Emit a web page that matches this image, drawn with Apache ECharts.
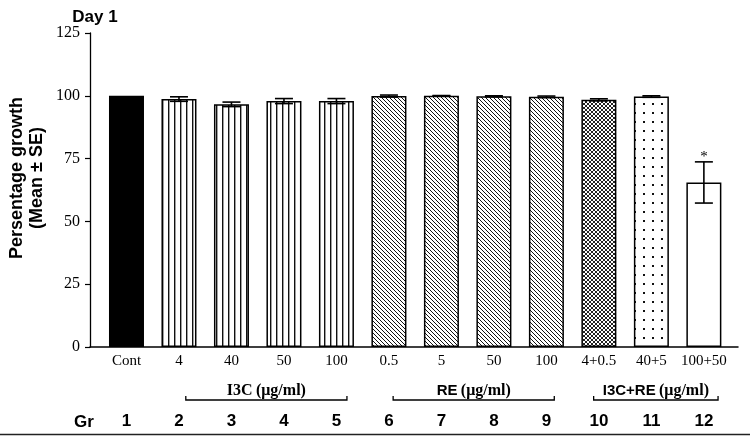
<!DOCTYPE html>
<html>
<head>
<meta charset="utf-8">
<script src="https://cdn.jsdelivr.net/npm/echarts@6/dist/echarts.min.js"></script>
<style>html,body{margin:0;padding:0;background:#fff;}#c{width:750px;height:436px;}</style>
</head>
<body>
<div id="c"></div>
<script>
// ---- data ----
const categories = ['Cont', '4', '40', '50', '100', '0.5', '5', '50', '100', '4+0.5', '40+5', '100+50'];
const groupNumbers = ['1', '2', '3', '4', '5', '6', '7', '8', '9', '10', '11', '12'];
const means = [100, 98.7, 96.6, 97.9, 97.9, 99.9, 100, 99.8, 99.6, 98.4, 99.7, 65.5];
const errors = [0, 0.9, 0.9, 1.0, 1.0, 0.4, 0.1, 0.2, 0.3, 0.4, 0.3, 8.2];
const significance = ['', '', '', '', '', '', '', '', '', '', '', '*'];
const patterns = ['solid', 'vlines', 'vlines', 'vlines', 'vlines', 'diag', 'diag', 'diag', 'diag', 'cross', 'dots', 'white'];
const yTicks = [0, 25, 50, 75, 100, 125];
const groups = [
  { label: 'I3C', from: 1.13, to: 4.2 },
  { label: 'RE', from: 5.08, to: 8.15 },
  { label: 'I3C+RE', from: 8.9, to: 11.27 }
];

// ---- patterns ----
function makePattern(kind) {
  if (kind === 'solid') return '#000';
  if (kind === 'white') return '#fff';
  const c = document.createElement('canvas');
  const ctx = c.getContext('2d');
  if (kind === 'vlines') {
    c.width = 6; c.height = 6;
    ctx.fillStyle = '#fff'; ctx.fillRect(0, 0, 6, 6);
    ctx.fillStyle = '#111'; ctx.fillRect(0, 0, 1.4, 6);
  } else if (kind === 'diag') {
    c.width = 4; c.height = 4;
    ctx.fillStyle = '#fff'; ctx.fillRect(0, 0, 4, 4);
    ctx.fillStyle = '#111';
    for (let i = 0; i < 4; i++) ctx.fillRect(i, i, 1, 1);
  } else if (kind === 'cross') {
    c.width = 4; c.height = 4;
    ctx.fillStyle = '#fff'; ctx.fillRect(0, 0, 4, 4);
    ctx.fillStyle = '#222';
    for (let i = 0; i < 4; i++) { ctx.fillRect(i, i, 1, 1); ctx.fillRect(3 - i, i, 1, 1); }
  } else if (kind === 'dots') {
    c.width = 9; c.height = 9;
    ctx.fillStyle = '#fff'; ctx.fillRect(0, 0, 9, 9);
    ctx.fillStyle = '#111'; ctx.fillRect(4, 4, 2, 2);
  }
  return { image: c, repeat: 'repeat' };
}

const barData = means.map((m, i) => ({
  value: [i, m],
  itemStyle: { color: makePattern(patterns[i]) }
}));
const errData = means.map((m, i) => [i, m, errors[i], i]);

const SERIF = 'Liberation Serif';
const SANS = 'Liberation Sans';

const chart = echarts.init(document.getElementById('c'), null, { renderer: 'canvas' });
const xMin = -0.695, xMax = 11.65;

chart.setOption({
  animation: false,
  backgroundColor: '#fff',
  grid: { left: 90, right: 12, top: 33, bottom: 89 },
  xAxis: [{
    type: 'value', min: xMin, max: xMax,
    splitLine: { show: false },
    axisLine: { show: true, onZero: false, lineStyle: { color: '#000', width: 1.5 } },
    axisTick: { show: false },
    axisLabel: {
      customValues: categories.map((c, i) => i),
      formatter: v => categories[Math.round(v)],
      color: '#000', fontFamily: SERIF, fontSize: 15, margin: 7
    }
  }, {
    type: 'value', min: xMin, max: xMax, position: 'bottom', offset: 58,
    splitLine: { show: false },
    axisLine: { show: false, onZero: false },
    axisTick: { show: false },
    axisLabel: {
      customValues: groupNumbers.map((c, i) => i),
      formatter: v => groupNumbers[Math.round(v)],
      color: '#000', fontFamily: SANS, fontSize: 17, fontWeight: 'bold', margin: 8
    }
  }],
  yAxis: {
    type: 'value', min: 0, max: 125, interval: 25,
    splitLine: { show: false },
    axisLine: { show: true, onZero: false, lineStyle: { color: '#000', width: 1.3 } },
    axisTick: { show: true, length: 5, lineStyle: { color: '#000', width: 1.2 } },
    axisLabel: { color: '#000', fontFamily: SERIF, fontSize: 16, margin: 10,
      formatter: v => (yTicks.indexOf(v) >= 0 ? String(v) : '') }
  },
  series: [{
    type: 'bar',
    data: barData,
    barWidth: 35,
    itemStyle: { borderColor: '#000', borderWidth: 1.5 }
  }, {
    type: 'custom',
    data: errData,
    z: 5,
    renderItem: function (params, api) {
      const x = api.value(0), m = api.value(1), s = api.value(2), idx = api.value(3);
      const top = api.coord([x, m + s]);
      const bot = api.coord([x, m - s]);
      const hw = 9;
      const st = { stroke: '#000', lineWidth: 1.6 };
      const children = [];
      if (s > 0) {
        children.push({ type: 'line', shape: { x1: top[0], y1: top[1], x2: bot[0], y2: bot[1] }, style: st });
        children.push({ type: 'line', shape: { x1: top[0] - hw, y1: top[1], x2: top[0] + hw, y2: top[1] }, style: st });
        children.push({ type: 'line', shape: { x1: bot[0] - hw, y1: bot[1], x2: bot[0] + hw, y2: bot[1] }, style: st });
      }
      if (significance[idx]) {
        children.push({ type: 'text', style: { text: significance[idx], x: top[0], y: top[1] + 3,
          align: 'center', verticalAlign: 'bottom', fill: '#000', font: '15px ' + SERIF } });
      }
      return { type: 'group', children: children };
    }
  }]
});

// ---- annotations: title, y name, group brackets ----
const yLine = chart.convertToPixel({ gridIndex: 0 }, [0, 0])[1];
const graphics = [
  { type: 'text', style: { text: 'Day 1', x: 95, y: 17, align: 'center', verticalAlign: 'middle',
      font: 'bold 17px ' + SANS, fill: '#000' } },
  { type: 'text', rotation: Math.PI / 2, x: 27, y: 178,
    style: { text: 'Persentage growth\n(Mean ± SE)', x: 0, y: 0, align: 'center', verticalAlign: 'middle',
      font: 'bold 18px ' + SANS, lineHeight: 20, fill: '#000' } },
  { type: 'text', style: { text: 'Gr', x: 84, y: 422, align: 'center', verticalAlign: 'middle',
      font: 'bold 17px ' + SANS, fill: '#000' } },
  { type: 'line', shape: { x1: 0, y1: 434.5, x2: 750, y2: 434.5 }, style: { stroke: '#222', lineWidth: 1.5 } }
];
const bracketY = yLine + 53;
groups.forEach(g => {
  const x1 = chart.convertToPixel({ xAxisIndex: 0 }, g.from);
  const x2 = chart.convertToPixel({ xAxisIndex: 0 }, g.to);
  graphics.push({ type: 'polyline', shape: { points: [[x1, bracketY - 4], [x1, bracketY], [x2, bracketY], [x2, bracketY - 4]] },
    style: { stroke: '#000', lineWidth: 1.3, fill: null } });
  const isSans = g.label !== 'I3C';
  graphics.push({ type: 'text', style: {
    text: '{a|' + g.label + '} {b|(μg/ml)}',
    x: (x1 + x2) / 2, y: bracketY - 9, align: 'center', verticalAlign: 'middle',
    rich: {
      a: { fontFamily: isSans ? SANS : SERIF, fontWeight: 'bold', fontSize: isSans ? 15 : 16, fill: '#000' },
      b: { fontFamily: SERIF, fontWeight: 'bold', fontSize: 16, fill: '#000' }
    }
  } });
});
chart.setOption({ graphic: graphics });
</script>
</body>
</html>
